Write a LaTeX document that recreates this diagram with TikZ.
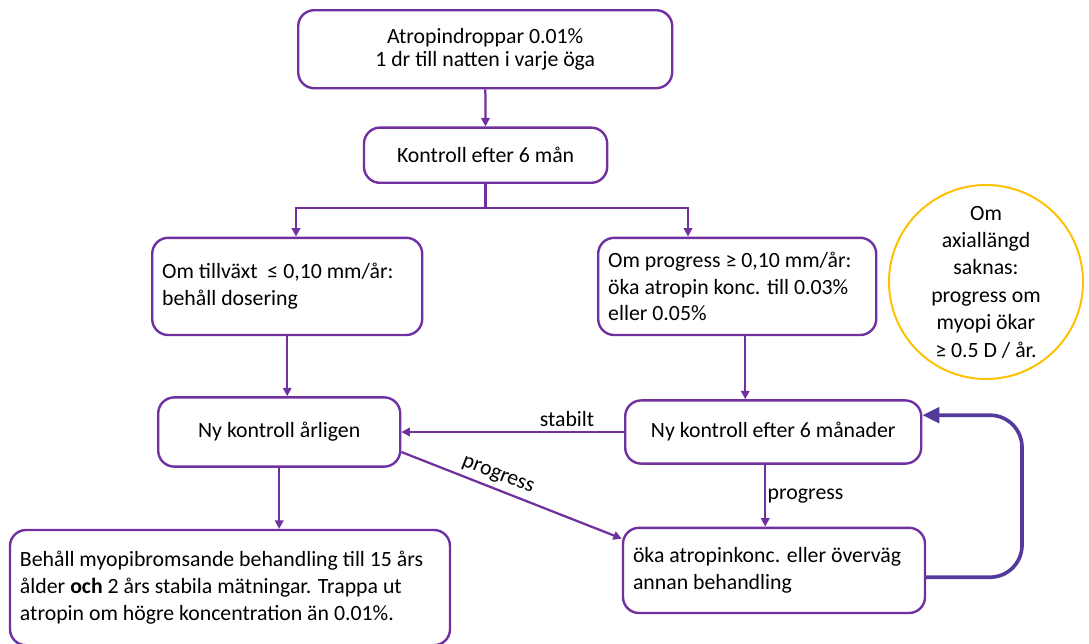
\documentclass[tikz,border=0pt]{standalone}
\usepackage{fontspec}
\setmainfont{Carlito}
\usetikzlibrary{arrows.meta}
\definecolor{lila}{HTML}{7030A0}
\definecolor{blalila}{RGB}{84,58,156}
\definecolor{guld}{HTML}{FFC000}

\begin{document}
\begin{tikzpicture}[
  every node/.style={font=\fontsize{15.5}{19}\selectfont},
  box/.style={draw=lila, line width=1.7pt, rounded corners=0.4cm, fill=white, inner xsep=0.25cm, inner ysep=0pt},
  flow/.style={draw=lila, line width=1.6pt, -{Triangle[length=6pt,width=6pt]}},
  returnarrow/.style={draw=blalila, line width=2.6pt, rounded corners=0.8cm, -{Triangle[length=12pt,width=11pt]}}
]
  \useasboundingbox (0,0) rectangle (27.225,-16.075);
  \node[box, align=center, minimum width=9.35cm, minimum height=1.95cm, font=\fontsize{15.5}{16.5}\selectfont] (drops) at (12.13,-1.23) {Atropindroppar 0.01\%\\1 dr till natten i varje öga};
  \node[box, minimum width=6.08cm, minimum height=1.38cm] (ktrl) at (12.14,-3.88) {Kontroll efter 6 mån};
  \node[box, align=flush left, text width=6.25cm, minimum height=2.43cm] (tillvaxt) at (7.18,-7.16) {Om tillväxt \ ≤ 0,10 mm/år:\\behåll dosering};
  \node[box, align=flush left, text width=6.45cm, minimum height=2.43cm] (progbox) at (18.43,-7.16) {Om progress ≥ 0,10 mm/år:\\öka atropin konc. till 0.03\%\\eller 0.05\%};
  \node[circle, draw=guld, line width=1.4pt, minimum size=4.85cm, inner sep=0pt, align=center, font=\fontsize{15.5}{19.5}\selectfont] (note) at (24.65,-7.05) {Om\\axiallängd\\saknas:\\progress om\\myopi ökar\\≥ 0.5 D / år.};
  \node[box, minimum width=6.05cm, minimum height=1.73cm] (arlig) at (6.98,-10.8) {Ny kontroll årligen};
  \node[box, minimum width=7.4cm, minimum height=1.58cm] (sexman) at (19.33,-10.8) {Ny kontroll efter 6 månader};
  \node[box, align=flush left, text width=10.5cm, minimum height=2.88cm] (behall) at (5.75,-14.69) {Behåll myopibromsande behandling till 15 års\\ålder \textbf{och} 2 års stabila mätningar. Trappa ut\\atropin om högre koncentration än 0.01\%.};
  \node[box, align=flush left, text width=7.05cm, minimum height=2.13cm] (oka) at (19.35,-14.26) {öka atropinkonc. eller överväg\\annan behandling};

  \coordinate (lsplit) at (7.4,-5.2);
  \coordinate (rsplit) at (17.2,-5.2);
  \draw[flow] (drops) -- (ktrl);
  \draw[flow] (ktrl.south) |- (lsplit) -- (lsplit |- tillvaxt.north);
  \draw[flow] (ktrl.south) |- (rsplit) -- (rsplit |- progbox.north);
  \draw[flow] (tillvaxt.south) -- (tillvaxt.south |- arlig.north);
  \draw[flow] ([xshift=2mm]progbox.south) -- ([xshift=2mm]progbox.south |- sexman.north);
  \draw[flow] (sexman.west) -- node[above, pos=0.256] {stabilt} (arlig.east);
  \draw[flow] ([yshift=-5mm]arlig.east) -- node[above, sloped, pos=0.415] {progress} ([yshift=-3mm]oka.north west);
  \draw[flow] ([xshift=-2mm]sexman.south) -- node[right, inner sep=1pt] {progress} ([xshift=-2mm]sexman.south |- oka.north);
  \draw[flow] (arlig.south) -- (arlig.south |- behall.north);
  \draw[returnarrow] ([yshift=-1.7mm]oka.east) -- (25.55,-14.43) -- (25.55,-10.38) -- ([yshift=4.2mm]sexman.east);
\end{tikzpicture}
\end{document}
